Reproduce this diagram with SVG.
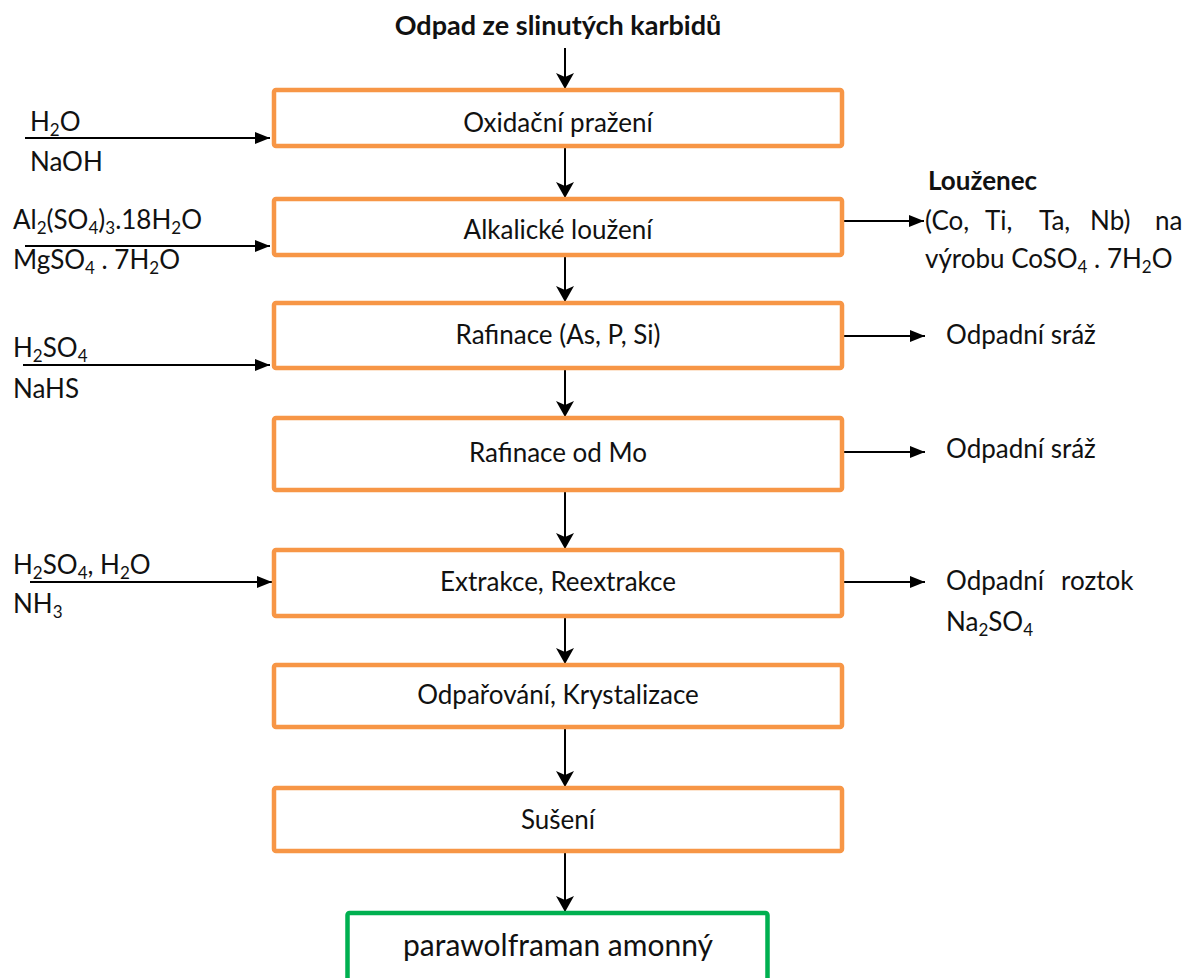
<svg xmlns="http://www.w3.org/2000/svg" width="1185" height="978" viewBox="0 0 1185 978">
  <defs>
    <style>
      text { font-family: Lato, "Open Sans", "Liberation Sans", sans-serif; fill: #111; font-size: 26px; }
      .ctr { text-anchor: middle; }
      .bold { font-weight: bold; }
      .step { fill: #fff; stroke: #f79646; stroke-width: 4.5; }
      .product { fill: #fff; stroke: #00b050; stroke-width: 4.5; }
      .flow { stroke: #000; stroke-width: 2; fill: none; }
      .sub { font-size: 17px; }
    </style>
    <!-- notched head for the main downward flow -->
    <marker id="headDown" markerWidth="18" markerHeight="18" refX="15" refY="9" orient="auto" markerUnits="userSpaceOnUse">
      <path d="M0,0 L16,9 L0,18 L4,9 Z" fill="#000"/>
    </marker>
    <!-- solid head for side feeds and outputs -->
    <marker id="headSide" markerWidth="16" markerHeight="12" refX="15" refY="6" orient="auto" markerUnits="userSpaceOnUse">
      <path d="M0,0 L15,6 L0,12 Z" fill="#000"/>
    </marker>
  </defs>

  <rect width="1185" height="978" fill="#fff"/>

  <!-- feed material -->
  <g id="feed">
    <text class="ctr bold" x="558" y="35" style="font-size:27px">Odpad ze slinutých karbidů</text>
  </g>

  <!-- connectors -->
  <g id="connectors">
    <line class="flow" x1="565" y1="48" x2="565" y2="88" marker-end="url(#headDown)"/>
    <line class="flow" x1="565" y1="148" x2="565" y2="197" marker-end="url(#headDown)"/>
    <line class="flow" x1="565" y1="257" x2="565" y2="301" marker-end="url(#headDown)"/>
    <line class="flow" x1="565" y1="370" x2="565" y2="416" marker-end="url(#headDown)"/>
    <line class="flow" x1="565" y1="492" x2="565" y2="548" marker-end="url(#headDown)"/>
    <line class="flow" x1="565" y1="618" x2="565" y2="663" marker-end="url(#headDown)"/>
    <line class="flow" x1="565" y1="729" x2="565" y2="786" marker-end="url(#headDown)"/>
    <line class="flow" x1="565" y1="853" x2="565" y2="911" marker-end="url(#headDown)"/>

    <line class="flow" x1="25" y1="138" x2="270" y2="138" marker-end="url(#headSide)"/>
    <line class="flow" x1="25" y1="246" x2="270" y2="246" marker-end="url(#headSide)"/>
    <line class="flow" x1="23" y1="365" x2="270" y2="365" marker-end="url(#headSide)"/>
    <line class="flow" x1="30" y1="582" x2="272" y2="582" marker-end="url(#headSide)"/>

    <line class="flow" x1="844" y1="221" x2="924" y2="221" marker-end="url(#headSide)"/>
    <line class="flow" x1="844" y1="336" x2="925" y2="336" marker-end="url(#headSide)"/>
    <line class="flow" x1="844" y1="452" x2="925" y2="452" marker-end="url(#headSide)"/>
    <line class="flow" x1="844" y1="582" x2="925" y2="582" marker-end="url(#headSide)"/>
  </g>

  <!-- process steps -->
  <g id="step-oxidacni">
    <rect class="step" x="274" y="90" width="568" height="56" rx="2"/>
    <text class="ctr" x="558" y="132">Oxidační pražení</text>
  </g>
  <g id="step-louzeni">
    <rect class="step" x="274" y="199" width="568" height="56" rx="2"/>
    <text class="ctr" x="558" y="239">Alkalické loužení</text>
  </g>
  <g id="step-rafinace-asp">
    <rect class="step" x="274" y="303" width="568" height="65" rx="2"/>
    <text class="ctr" x="558" y="344">Rafinace (As, P, Si)</text>
  </g>
  <g id="step-rafinace-mo">
    <rect class="step" x="274" y="418" width="568" height="72" rx="2"/>
    <text class="ctr" x="558" y="462">Rafinace od Mo</text>
  </g>
  <g id="step-extrakce">
    <rect class="step" x="274" y="550" width="568" height="66" rx="2"/>
    <text class="ctr" x="558" y="591">Extrakce, Reextrakce</text>
  </g>
  <g id="step-krystalizace">
    <rect class="step" x="274" y="665" width="568" height="62" rx="2"/>
    <text class="ctr" x="558" y="704">Odpařování, Krystalizace</text>
  </g>
  <g id="step-suseni">
    <rect class="step" x="274" y="788" width="568" height="63" rx="2"/>
    <text class="ctr" x="558" y="829">Sušení</text>
  </g>
  <g id="product">
    <rect class="product" x="347.5" y="913" width="420" height="80" rx="2"/>
    <text class="ctr" x="558" y="956" style="font-size:30px">parawolframan amonný</text>
  </g>

  <!-- reagents fed in from the left -->
  <g id="in-oxidacni">
    <text x="30" y="131">H<tspan class="sub" dy="5">2</tspan><tspan dy="-5">O</tspan></text>
    <text x="30" y="171">NaOH</text>
  </g>
  <g id="in-louzeni">
    <text x="13" y="229">Al<tspan class="sub" dy="5">2</tspan><tspan dy="-5">(SO</tspan><tspan class="sub" dy="5">4</tspan><tspan dy="-5">)</tspan><tspan class="sub" dy="5">3</tspan><tspan dy="-5">.18H</tspan><tspan class="sub" dy="5">2</tspan><tspan dy="-5">O</tspan></text>
    <text x="13" y="269">MgSO<tspan class="sub" dy="5">4</tspan><tspan dy="-5"> . 7H</tspan><tspan class="sub" dy="5">2</tspan><tspan dy="-5">O</tspan></text>
  </g>
  <g id="in-rafinace">
    <text x="13" y="357">H<tspan class="sub" dy="5">2</tspan><tspan dy="-5">SO</tspan><tspan class="sub" dy="5">4</tspan></text>
    <text x="13" y="398">NaHS</text>
  </g>
  <g id="in-extrakce">
    <text x="13" y="574">H<tspan class="sub" dy="5">2</tspan><tspan dy="-5">SO</tspan><tspan class="sub" dy="5">4</tspan><tspan dy="-5">, H</tspan><tspan class="sub" dy="5">2</tspan><tspan dy="-5">O</tspan></text>
    <text x="13" y="613">NH<tspan class="sub" dy="5">3</tspan></text>
  </g>

  <!-- outputs on the right -->
  <g id="out-louzenec">
    <text class="bold" x="928" y="190">Louženec</text>
    <text y="230"><tspan x="925">(Co,</tspan><tspan x="985">Ti,</tspan><tspan x="1039">Ta,</tspan><tspan x="1090">Nb)</tspan><tspan x="1155">na</tspan></text>
    <text x="925" y="268">výrobu CoSO<tspan class="sub" dy="5">4</tspan><tspan dy="-5"> . 7H</tspan><tspan class="sub" dy="5">2</tspan><tspan dy="-5">O</tspan></text>
  </g>
  <g id="out-sraz-1">
    <text x="946" y="344">Odpadní sráž</text>
  </g>
  <g id="out-sraz-2">
    <text x="946" y="458">Odpadní sráž</text>
  </g>
  <g id="out-roztok">
    <text y="590"><tspan x="946">Odpadní</tspan><tspan x="1061">roztok</tspan></text>
    <text x="946" y="631">Na<tspan class="sub" dy="5">2</tspan><tspan dy="-5">SO</tspan><tspan class="sub" dy="5">4</tspan></text>
  </g>
</svg>
